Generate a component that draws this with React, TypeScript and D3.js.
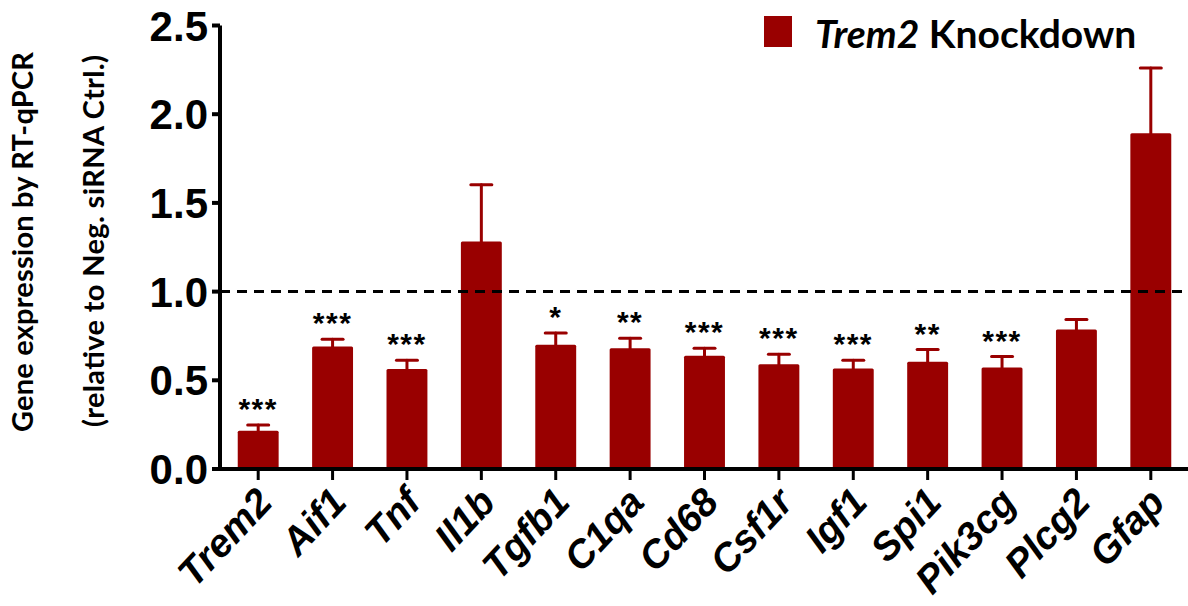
import React from "react";
import * as d3 from "d3";

// Relative expression after Trem2 knockdown (mean and mean + SEM)
const genes = ["Trem2", "Aif1", "Tnf", "Il1b", "Tgfb1", "C1qa", "Cd68", "Csf1r", "Igf1", "Spi1", "Pik3cg", "Plcg2", "Gfap"];
const means = [0.216, 0.69, 0.563, 1.283, 0.70, 0.681, 0.638, 0.591, 0.566, 0.604, 0.572, 0.786, 1.892];
const upper = [0.248, 0.732, 0.613, 1.603, 0.766, 0.737, 0.681, 0.647, 0.613, 0.673, 0.634, 0.843, 2.261];
const stars = ["***", "***", "***", "", "*", "**", "***", "***", "***", "**", "***", "", ""];
const yTicks = [0, 0.5, 1.0, 1.5, 2.0, 2.5];
const reference = 1.0;

const W = 1188;
const H = 606;
const BAR = "#990000";
const ARIAL = "'Liberation Sans', Arial, sans-serif";
const CAL = "Lato, 'Open Sans', sans-serif";

export default function App() {
  const y = d3.scaleLinear().domain([0, 2.5]).range([469, 25.5]);
  const x = d3.scaleBand<string>().domain(genes).range([221, 1188]).paddingInner(0.45).paddingOuter(0.225);
  const bw = x.bandwidth();
  const capW = 21;
  const x0 = 220;

  return (
    <svg width={W} height={H} style={{ position: "absolute", left: 0, top: 0, background: "#fff" }}>
      {/* y-axis title */}
      <g fontFamily={CAL} fontWeight="bold" fontSize={29} textAnchor="middle" fill="#000">
        <text transform={`translate(33,242) rotate(-90)`} textLength={380} lengthAdjust="spacing">
          Gene expression by RT-qPCR
        </text>
        <text transform={`translate(104,241) rotate(-90)`} textLength={372} lengthAdjust="spacing">
          (relative to Neg. siRNA Ctrl.)
        </text>
      </g>

      {/* bars */}
      {genes.map((g, i) => (
        <rect key={g} x={x(g)!} y={y(means[i])} width={bw} height={y(0) - y(means[i])} fill={BAR} rx={1.5} />
      ))}

      {/* error bars */}
      {genes.map((g, i) => {
        const cx = x(g)! + bw / 2;
        return (
          <g key={"e" + g} stroke={BAR} strokeWidth={3} strokeLinecap="round">
            <line x1={cx} x2={cx} y1={y(means[i])} y2={y(upper[i])} />
            <line x1={cx - capW / 2} x2={cx + capW / 2} y1={y(upper[i])} y2={y(upper[i])} />
          </g>
        );
      })}

      {/* significance marks */}
      <g fontFamily={ARIAL} fontWeight="bold" fontSize={30} textAnchor="middle" fill="#000">
        {genes.map((g, i) =>
          stars[i] ? (
            <text key={"s" + g} x={x(g)! + bw / 2} y={y(upper[i]) - 6} letterSpacing={1.5}>
              {stars[i]}
            </text>
          ) : null
        )}
      </g>

      {/* reference line at 1.0 */}
      <line x1={x0} x2={W} y1={y(reference)} y2={y(reference)} stroke="#000" strokeWidth={3} strokeDasharray="10,7" />

      {/* y axis */}
      <line x1={x0} x2={x0} y1={y(2.5)} y2={y(0) + 2} stroke="#000" strokeWidth={4} />
      {yTicks.map((t) => (
        <g key={"yt" + t}>
          <line x1={x0 - 8} x2={x0} y1={y(t)} y2={y(t)} stroke="#000" strokeWidth={4} />
          <text x={208} y={y(t)} dy="0.36em" textAnchor="end" fontFamily={ARIAL} fontWeight="bold" fontSize={42}>
            {t.toFixed(1)}
          </text>
        </g>
      ))}

      {/* x axis */}
      <line x1={x0 - 8} x2={W} y1={y(0)} y2={y(0)} stroke="#000" strokeWidth={4} />
      {genes.map((g) => {
        const cx = x(g)! + bw / 2;
        return (
          <g key={"xt" + g}>
            <line x1={cx} x2={cx} y1={y(0)} y2={y(0) + 11} stroke="#000" strokeWidth={3} />
            <text
              transform={`translate(${cx + 16},${y(0) + 35}) rotate(-47)`}
              textAnchor="end"
              fontFamily={ARIAL}
              fontWeight="bold"
              fontStyle="italic"
              fontSize={39}
            >
              {g}
            </text>
          </g>
        );
      })}

      {/* legend */}
      <rect x={764} y={16} width={28} height={31} fill={BAR} />
      <text x={815} y={48} fontFamily={CAL} fontWeight="bold" fontSize={39} fill="#000">
        <tspan fontStyle="italic">Trem2</tspan> Knockdown
      </text>
    </svg>
  );
}
